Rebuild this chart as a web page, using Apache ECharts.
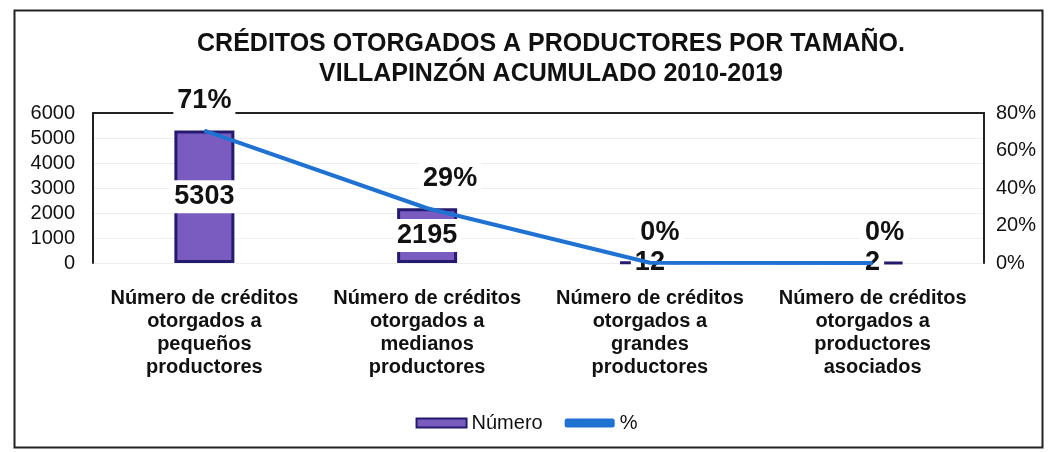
<!DOCTYPE html>
<html><head><meta charset="utf-8">
<script src="https://cdn.jsdelivr.net/npm/echarts@6/dist/echarts.min.js"></script>
<style>html,body{margin:0;padding:0;background:#fff}#c{width:1053px;height:452px}</style>
</head><body><div id="c"></div>
<script>
const categories = [
  'Número de créditos\notorgados a\npequeños\nproductores',
  'Número de créditos\notorgados a\nmedianos\nproductores',
  'Número de créditos\notorgados a\ngrandes\nproductores',
  'Número de créditos\notorgados a\nproductores\nasociados'
];
const numero = [5303, 2195, 12, 2];
const porcentaje = [0.706, 0.292, 0.0016, 0.0003];
const leftTicks = [0, 1000, 2000, 3000, 4000, 5000, 6000];
const rightTicks = [0, 0.2, 0.4, 0.6, 0.8];

const FONT = '"Liberation Sans", Arial, sans-serif';
const lineLabelShift = [0, 23, 10, 12];
const chart = echarts.init(document.getElementById('c'));
chart.setOption({
  animation: false,
  textStyle: { fontFamily: FONT },
  title: {
    text: 'CRÉDITOS OTORGADOS A PRODUCTORES POR TAMAÑO.\nVILLAPINZÓN ACUMULADO 2010-2019',
    left: 546, top: 24, textAlign: 'center',
    textStyle: { fontFamily: FONT, fontSize: 25, fontWeight: 'bold', color: '#111', lineHeight: 30 }
  },
  graphic: [{
    type: 'rect', left: 12, top: 8, z: -10,
    shape: { width: 1028, height: 437 },
    style: { fill: 'none', stroke: '#222', lineWidth: 2 }
  }],
  legend: {
    top: 408, left: 'center', itemGap: 22, itemWidth: 50, itemHeight: 9,
    textStyle: { fontFamily: FONT, fontSize: 20, color: '#111' },
    data: [
      { name: 'Número', icon: 'rect' },
      { name: '%', icon: 'roundRect', itemStyle: { borderWidth: 0 } }
    ]
  },
  grid: { left: 93, right: 69, top: 113, bottom: 189 },
  xAxis: [{
    type: 'category', data: categories,
    axisLine: { show: false }, axisTick: { show: false },
    axisLabel: { interval: 0, margin: 24, fontFamily: FONT, fontSize: 20, fontWeight: 'bold', color: '#111', lineHeight: 23 }
  }, {
    type: 'category', data: categories, position: 'top',
    axisLine: { show: true, onZero: false, lineStyle: { color: '#222', width: 2 } },
    axisTick: { show: false }, axisLabel: { show: false }
  }],
  yAxis: [{
    type: 'value', min: 0, max: 6000, interval: 1000,
    axisLine: { show: true, lineStyle: { color: '#222', width: 2 } },
    axisTick: { show: false },
    splitLine: { show: true, lineStyle: { color: '#eee' } },
    axisLabel: { fontFamily: FONT, fontSize: 20, color: '#111', margin: 18, formatter: v => String(v) }
  }, {
    type: 'value', min: 0, max: 0.8, interval: 0.2,
    axisLine: { show: true, lineStyle: { color: '#222', width: 2 } },
    axisTick: { show: false }, splitLine: { show: false },
    axisLabel: { fontFamily: FONT, fontSize: 20, color: '#111', margin: 12,
      formatter: v => Math.round(v * 100) + '%' }
  }],
  series: [{
    name: 'Número', type: 'bar', data: numero, barWidth: 60,
    itemStyle: { color: '#7a5cc0', borderColor: '#241a6e', borderWidth: 3 },
    label: { show: true, position: 'inside', fontFamily: FONT, fontSize: 27, fontWeight: 'bold',
      color: '#111', backgroundColor: '#fff', padding: [3, 4] },
    z: 2
  }, {
    name: '%', type: 'line', yAxisIndex: 1,
    data: porcentaje.map((v, i) => ({ value: v, label: { offset: [lineLabelShift[i], 0] } })),
    symbol: 'circle', symbolSize: 1, showSymbol: true,
    lineStyle: { color: '#1f72d2', width: 4 }, itemStyle: { color: '#1f72d2' },
    label: { show: true, position: 'top', distance: 14, fontFamily: FONT, fontSize: 27, fontWeight: 'bold',
      color: '#111', backgroundColor: '#fff', padding: [2, 4],
      formatter: p => Math.round(p.value * 100) + '%' },
    z: 5
  }]
});
</script></body></html>
